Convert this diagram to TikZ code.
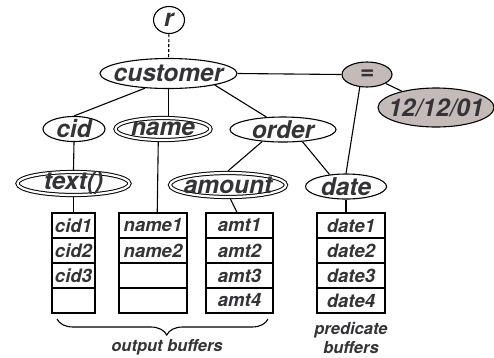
\documentclass[tikz,border=0pt]{standalone}
\usepackage{fontspec}
\setmainfont{TeX Gyre Heros}
\usetikzlibrary{calc,shapes.geometric,decorations.pathreplacing}
\definecolor{predgray}{RGB}{196,187,184}
\definecolor{labelgray}{RGB}{52,52,56}
\tikzset{
	attr/.style={ellipse, draw, line width=1.1pt, inner xsep=-10pt, inner ysep=-4pt, font=\fontsize{24.5}{26}\selectfont\bfseries\itshape, text=labelgray},
	dblattr/.style={attr, double, double distance=2.2pt, line width=1pt, outer sep=2.1pt},
	pred/.style={attr, fill=predgray},
	cell/.style={draw, line width=1.1pt, minimum height=25pt, inner sep=0pt, font=\fontsize{18.5}{20}\selectfont\bfseries\itshape, text=labelgray},
	caption/.style={font=\fontsize{16.5}{19}\selectfont\bfseries\itshape, text=labelgray, align=center}
}

\begin{document}
\begin{tikzpicture}[x=1pt,y=-1pt,line width=1.1pt]
		\useasboundingbox (0,0) rectangle (494,357);

		\node[attr, minimum width=31pt, minimum height=27pt] (r) at (169,20) {r};
		\node[attr, minimum width=137pt, minimum height=30pt] (customer) at (168.5,73.5) {customer};
		\node[pred, minimum width=50pt, minimum height=25pt] (eq) at (367,74.5) {=};
		\node[pred, minimum width=116pt, minimum height=39pt] (date12) at (436,107.5) {12/12/01};

		\node[attr, minimum width=62pt, minimum height=25pt] (cid) at (74,129) {cid};
		\node[dblattr, minimum width=95pt, minimum height=22pt] (name) at (163,129) {name};
		\node[attr, minimum width=106pt, minimum height=25pt] (order) at (283,129.5) {order};

		\node[dblattr, minimum width=112pt, minimum height=23pt] (textfn) at (73.5,183.5) {text()};
		\node[dblattr, minimum width=116pt, minimum height=24pt] (amount) at (228,185) {amount};
		\node[attr, minimum width=81pt, minimum height=25pt] (date) at (346,186.5) {date};

		\foreach \t [count=\i] in {cid1,cid2,cid3,{}}
			\node[cell, minimum width=43pt] (cidbuf\i) at (73.5,{200.5+25*\i}) {\t};
		\foreach \t [count=\i] in {name1,name2,{},{}}
			\node[cell, minimum width=68pt] (namebuf\i) at (153,{200.5+25*\i}) {\t};
		\foreach \t [count=\i] in {amt1,amt2,amt3,amt4}
			\node[cell, minimum width=67pt] (amtbuf\i) at (239.5,{200.5+25*\i}) {\t};
		\foreach \t [count=\i] in {date1,date2,date3,date4}
			\node[cell, minimum width=68pt] (datebuf\i) at (351,{200.5+25*\i}) {\t};

		\draw[dash pattern=on 3pt off 2pt] (r) -- (customer);
		\draw (customer.east) -- (eq.west);
		\draw (eq) -- (date12);
		\draw (eq.-120) -- (date.north);
		\draw (customer.-148) -- (cid.north);
		\draw (customer.south) -- (customer.south |- name.north);
		\draw (customer.-14) -- (order.143);
		\draw (order.-150) -- (amount.north);
		\draw (order.-32) -- (date.144);
		\draw (cid.south) -- (textfn.north);
		\draw (textfn.south) -- (cidbuf1.north);
		\draw (name.-110) -- (namebuf1.72);
		\draw (amount.-80) -- (amtbuf1.101);
		\draw (date.south) -- (date.south |- datebuf1.north);

		\coordinate (braceL) at (57,319);
		\coordinate (braceR) at (268,319);
		\draw[decorate, decoration={brace, mirror, amplitude=16pt, aspect=0.52}] (braceL) -- (braceR);
		\node[caption] (outbuf) at (167,347) {output buffers};
		\node[caption] (predbuf) at (351,337.5) {predicate\\buffers};
	\end{tikzpicture}
\end{document}
